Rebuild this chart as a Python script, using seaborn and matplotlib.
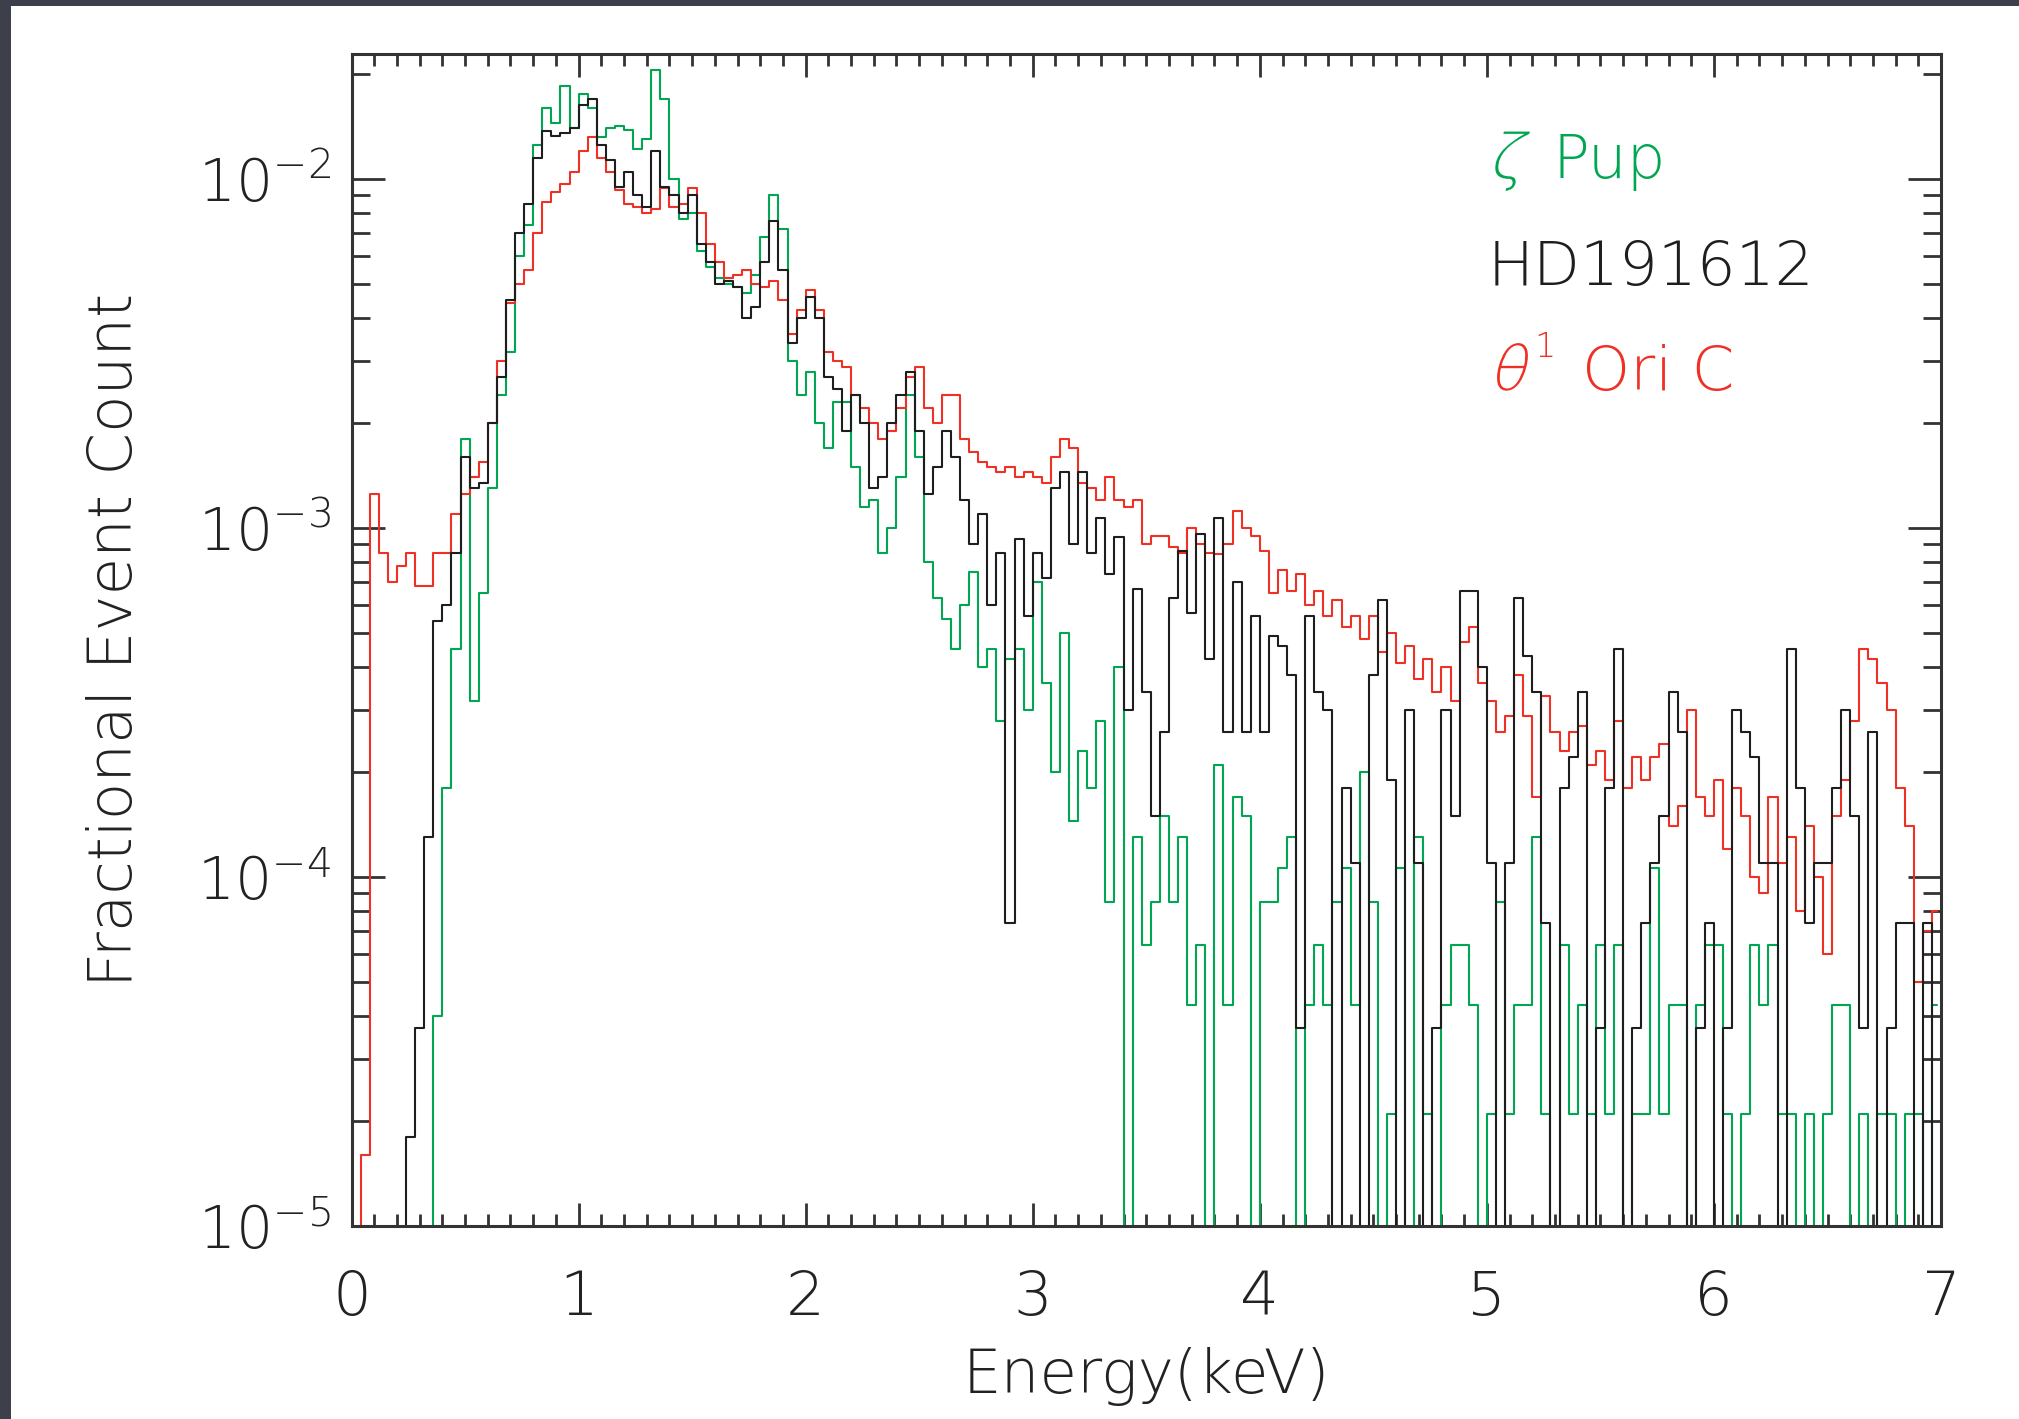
import numpy as np
import pandas as pd
import matplotlib
matplotlib.use("Agg")
import matplotlib.pyplot as plt
import matplotlib.ticker as mticker
import matplotlib.transforms as mtransforms
from matplotlib.patches import Rectangle, PathPatch
from matplotlib.textpath import TextPath
from matplotlib.font_manager import FontProperties
import seaborn as sns

# ---------------- data (fractional event count per 0.04 keV bin, in units of 1e-4) -------------
BIN_WIDTH_KEV = 0.04
VALUE_UNIT = 1e-4

theta1_ori_c = [
    0, 0.16, 12.5, 8.5, 7.0, 7.8, 8.5, 6.8, 6.8, 8.5,          # 0.0-0.4
    8.5, 11, 12.5, 14, 15.5, 20, 30, 44, 50, 55,                # 0.4-0.8
    70, 86, 92, 97, 105, 120, 132, 115, 105, 93,                # 0.8-1.2
    85, 83, 80, 82, 94, 83, 85, 94, 80, 65,                     # 1.2-1.6
    58, 52, 53, 55, 50, 49, 51, 45, 36, 42,                     # 1.6-2.0
    48, 42, 32, 30, 29, 24, 22, 20, 18, 19,                     # 2.0-2.4
    22, 27, 29, 22, 20, 24, 24, 18, 16.5, 15.5,                 # 2.4-2.8
    15, 14.5, 15, 14, 14.5, 14, 13.5, 16, 18, 17,               # 2.8-3.2
    13.5, 13, 12, 14, 12, 11.5, 12, 9, 9.5, 9.5,                # 3.2-3.6
    8.8, 8.5, 10, 9, 8.5, 8.4, 9, 11.2, 10, 9.5,                # 3.6-4.0
    8.6, 6.5, 7.6, 6.6, 7.4, 6.0, 6.6, 5.6, 6.2, 5.2,           # 4.0-4.4
    5.6, 4.8, 5.6, 4.4, 5.0, 4.1, 4.6, 3.7, 4.2, 3.4,           # 4.4-4.8
    4.0, 3.2, 4.7, 5.2, 3.6, 3.2, 2.6, 2.9, 3.8, 2.9,           # 4.8-5.2
    1.7, 3.3, 2.6, 2.3, 2.6, 2.7, 2.1, 2.3, 1.9, 2.8,           # 5.2-5.6
    1.8, 2.2, 1.9, 2.2, 2.4, 1.4, 1.6, 3.0, 1.7, 1.5,           # 5.6-6.0
    1.9, 1.2, 1.8, 1.5, 1.0, 0.9, 1.7, 1.1, 1.3, 0.8,           # 6.0-6.4
    1.4, 1.0, 0.6, 1.5, 1.9, 2.8, 4.5, 4.2, 3.6, 3.0,           # 6.4-6.8
    1.8, 1.4, 0.5, 0.7, 0.8,                                    # 6.8-7.0
]

hd191612 = [
    0, 0, 0, 0, 0, 0, 0.18, 0.37, 1.3, 5.4,                     # 0.0-0.4
    6.0, 8.5, 16, 13, 13.5, 20, 27, 45, 70, 85,                 # 0.4-0.8
    115, 137, 133, 135, 140, 163, 170, 125, 113, 95,            # 0.8-1.2
    105, 90, 83, 120, 95, 90, 80, 90, 65, 58,                   # 1.2-1.6
    50, 51, 49, 40, 43, 58, 76, 55, 34, 40,                     # 1.6-2.0
    46, 40, 27, 25, 19, 24, 20, 13, 14, 20,                     # 2.0-2.4
    24, 28, 19, 12.5, 15, 19, 16, 12, 9, 11,                    # 2.4-2.8
    6, 8.5, 0.74, 9.3, 5.6, 8.5, 7.2, 13, 14.5, 9,              # 2.8-3.2
    14.5, 8.5, 10.7, 7.4, 9.4, 3.0, 6.7, 3.4, 1.5, 2.6,         # 3.2-3.6
    6.3, 8.6, 5.7, 9.6, 4.2, 10.7, 2.6, 7.0, 2.6, 5.6,          # 3.6-4.0
    2.6, 4.9, 4.6, 3.8, 0.37, 5.6, 3.4, 3.0, 0, 1.8,            # 4.0-4.4
    1.1, 0, 3.8, 6.2, 1.9, 0, 3.0, 1.1, 0, 0.37,                # 4.4-4.8
    3.0, 1.5, 6.6, 6.6, 4.0, 1.1, 0, 1.1, 6.3, 4.3,             # 4.8-5.2
    3.4, 0.74, 0, 1.8, 2.2, 3.4, 0, 0.37, 1.8, 4.5,             # 5.2-5.6
    0, 0.37, 0.74, 1.1, 1.5, 3.4, 2.6, 0, 0.37, 0.74,           # 5.6-6.0
    0, 0.37, 3.0, 2.6, 2.2, 1.1, 1.1, 0, 4.5, 1.8,              # 6.0-6.4
    0.74, 1.1, 1.1, 1.8, 3.0, 1.5, 0.37, 2.6, 0, 0.37,          # 6.4-6.8
    0.74, 0.74, 0, 0.74, 0,                                     # 6.8-7.0
]

zeta_pup = [
    0, 0, 0, 0, 0, 0, 0, 0, 0, 0.4,                             # 0.0-0.4
    1.8, 4.5, 18, 3.2, 6.5, 13, 24, 32, 60, 74,                 # 0.4-0.8
    125, 160, 145, 185, 140, 175, 160, 132, 140, 142,           # 0.8-1.2
    138, 122, 130, 205, 170, 100, 77, 80, 62, 56,               # 1.2-1.6
    52, 50, 49, 47, 53, 68, 90, 72, 30, 24,                     # 1.6-2.0
    28, 20, 17, 23, 23, 15, 11.5, 12, 8.5, 10,                  # 2.0-2.4
    14, 24, 16, 8, 6.3, 5.5, 4.5, 6, 7.5, 4.0,                  # 2.4-2.8
    4.5, 2.8, 4.2, 4.5, 3.0, 7, 3.6, 2.0, 5, 1.45,              # 2.8-3.2
    2.3, 1.8, 2.8, 0.85, 4.0, 0, 1.3, 0.64, 0.85, 1.5,          # 3.2-3.6
    0.85, 1.3, 0.43, 0.64, 0, 2.1, 0.43, 1.7, 1.5, 0,           # 3.6-4.0
    0.85, 0.85, 1.06, 1.3, 0, 0.43, 0.64, 0.43, 0.85, 1.06,     # 4.0-4.4
    0.43, 2.0, 0.85, 0, 0.21, 1.06, 0, 1.3, 0.21, 0,            # 4.4-4.8
    0.43, 0.64, 0.64, 0.43, 0, 0.21, 0.85, 0.21, 0.43, 0.43,    # 4.8-5.2
    1.3, 0.21, 0, 0.64, 0.21, 0.43, 0.21, 0.64, 0.21, 0.64,     # 5.2-5.6
    0, 0.21, 0.21, 1.06, 0.21, 0.43, 0.43, 0, 0.43, 0.64,       # 5.6-6.0
    0.64, 0.21, 0, 0.21, 0.64, 0.43, 0.64, 0.21, 0.21, 0,       # 6.0-6.4
    0.21, 0, 0.21, 0.43, 0.43, 0, 0.21, 0, 0.21, 0.21,          # 6.4-6.8
    0, 0.21, 0.21, 0, 0.43,                                     # 6.8-7.0
]

# legend labels: (greek letter, superscript, rest of the name)
series_names = [("ζ", "", "Pup"), ("", "", "HD191612"), ("θ", "1", "Ori C")]
series_colors = ["#00a651", "#1e1e1e", "#ee3124"]
x_ticks = [0, 1, 2, 3, 4, 5, 6, 7]
x_label = "Energy(keV)"
y_label = "Fractional Event Count"

# ---------------- style ----------------
sns.set_style("ticks")
plt.rcParams["font.family"] = ["DejaVu Sans"]
plt.rcParams["font.weight"] = 200
plt.rcParams["axes.labelweight"] = 200
plt.rcParams["mathtext.fontset"] = "custom"
plt.rcParams["mathtext.rm"] = "DejaVu Sans:extralight"
plt.rcParams["mathtext.it"] = "DejaVu Sans:extralight"
plt.rcParams["mathtext.bf"] = "DejaVu Sans:bold"
plt.rcParams["mathtext.sf"] = "DejaVu Sans:extralight"

DPI = 100
fig = plt.figure(figsize=(20.19, 14.19), dpi=DPI)
fig.patch.set_facecolor("white")
ax = fig.add_axes([0.1741, 0.1360, 0.7873, 0.8259])
ax.set_facecolor("white")


def to_frame(vals):
    v = np.asarray(vals, dtype=float) * VALUE_UNIT
    e = (np.arange(len(v)) + 0.5) * BIN_WIDTH_KEV
    v = np.where(v > 0, v, 1e-9)  # empty bins fall off the bottom of the log axis
    return pd.DataFrame({"energy": e, "frac": v})


order = [(zeta_pup, series_colors[0]), (theta1_ori_c, series_colors[2]), (hd191612, series_colors[1])]
for vals, col in order:
    df = to_frame(vals)
    sns.lineplot(data=df, x="energy", y="frac", ax=ax, color=col, lw=1.5,
                 drawstyle="steps-mid", estimator=None, sort=False)

ax.set_yscale("log")
ax.set_xlim(0, 7)
ax.set_ylim(1e-5, 0.0228)

ax.xaxis.set_major_locator(mticker.FixedLocator(x_ticks))
ax.xaxis.set_minor_locator(mticker.MultipleLocator(0.1))
ax.xaxis.set_major_formatter(mticker.FormatStrFormatter("%d"))
ax.yaxis.set_major_locator(mticker.LogLocator(base=10, numticks=12))
ax.yaxis.set_minor_locator(mticker.LogLocator(base=10, subs=np.arange(2, 10), numticks=40))
ax.yaxis.set_major_formatter(mticker.FuncFormatter(lambda v, p: r"$\mathrm{10^{%d}}$" % round(np.log10(v))))
ax.yaxis.set_minor_formatter(mticker.NullFormatter())

tick_col = "#333333"
lab_col = "#222222"
ax.tick_params(axis="x", which="major", direction="in", length=16.5, width=2.0,
               top=True, bottom=True, pad=31, labelsize=44, color=tick_col, labelcolor=lab_col)
ax.tick_params(axis="x", which="minor", direction="in", length=8.6, width=2.0,
               top=True, bottom=True, color=tick_col)
ax.tick_params(axis="y", which="major", direction="in", length=24, width=2.0,
               left=True, right=True, pad=15, labelsize=42, color=tick_col, labelcolor=lab_col)
ax.tick_params(axis="y", which="minor", direction="in", length=13, width=2.0,
               left=True, right=True, color=tick_col)

for s in ax.spines.values():
    s.set_linewidth(2.2)
    s.set_color(tick_col)
    s.set_visible(True)

ax.set_xlabel(x_label, fontsize=44, color=lab_col, fontweight=200)
ax.set_ylabel(y_label, fontsize=44, color=lab_col, fontweight=200)
ax.xaxis.set_label_coords(0.5, -0.103)
ax.yaxis.set_label_coords(-0.130, 0.5)

# ---------------- legend text (thin slanted Greek letters, like the original) ----------------
px = mtransforms.IdentityTransform()
em_px = 44 * DPI / 72.0
thin = FontProperties(family="DejaVu Sans", weight=200)
H = 1419
legend_x = 1488
baselines = [H - 178, H - 285, H - 390]

for (greek, sup, rest), col, yb in zip(series_names, series_colors, baselines):
    x = legend_x
    if greek:
        tp = TextPath((0, 0), greek, size=em_px, prop=thin)
        tr = mtransforms.Affine2D().skew_deg(14, 0).translate(x, yb)
        fig.add_artist(PathPatch(tp, transform=tr, facecolor=col, edgecolor="none", lw=0))
        if sup:
            fig.text(x + 46, yb + 33, sup, transform=px, fontsize=24, color=col,
                     ha="left", va="baseline", fontweight=200)
            x = 1582
        else:
            x = 1552
    fig.text(x, yb, rest, transform=px, fontsize=44, color=col,
             ha="left", va="baseline", fontweight=200)

# dark frame strips at the top and left of the picture
frame_col = "#3d3f4b"
fig.add_artist(Rectangle((0, 1 - 6 / 1419), 1, 6 / 1419, transform=fig.transFigure,
                         facecolor=frame_col, edgecolor="none", zorder=10))
fig.add_artist(Rectangle((0, 0), 11 / 2019, 1, transform=fig.transFigure,
                         facecolor=frame_col, edgecolor="none", zorder=10))

fig.savefig("out.png", dpi=DPI, facecolor="white")
